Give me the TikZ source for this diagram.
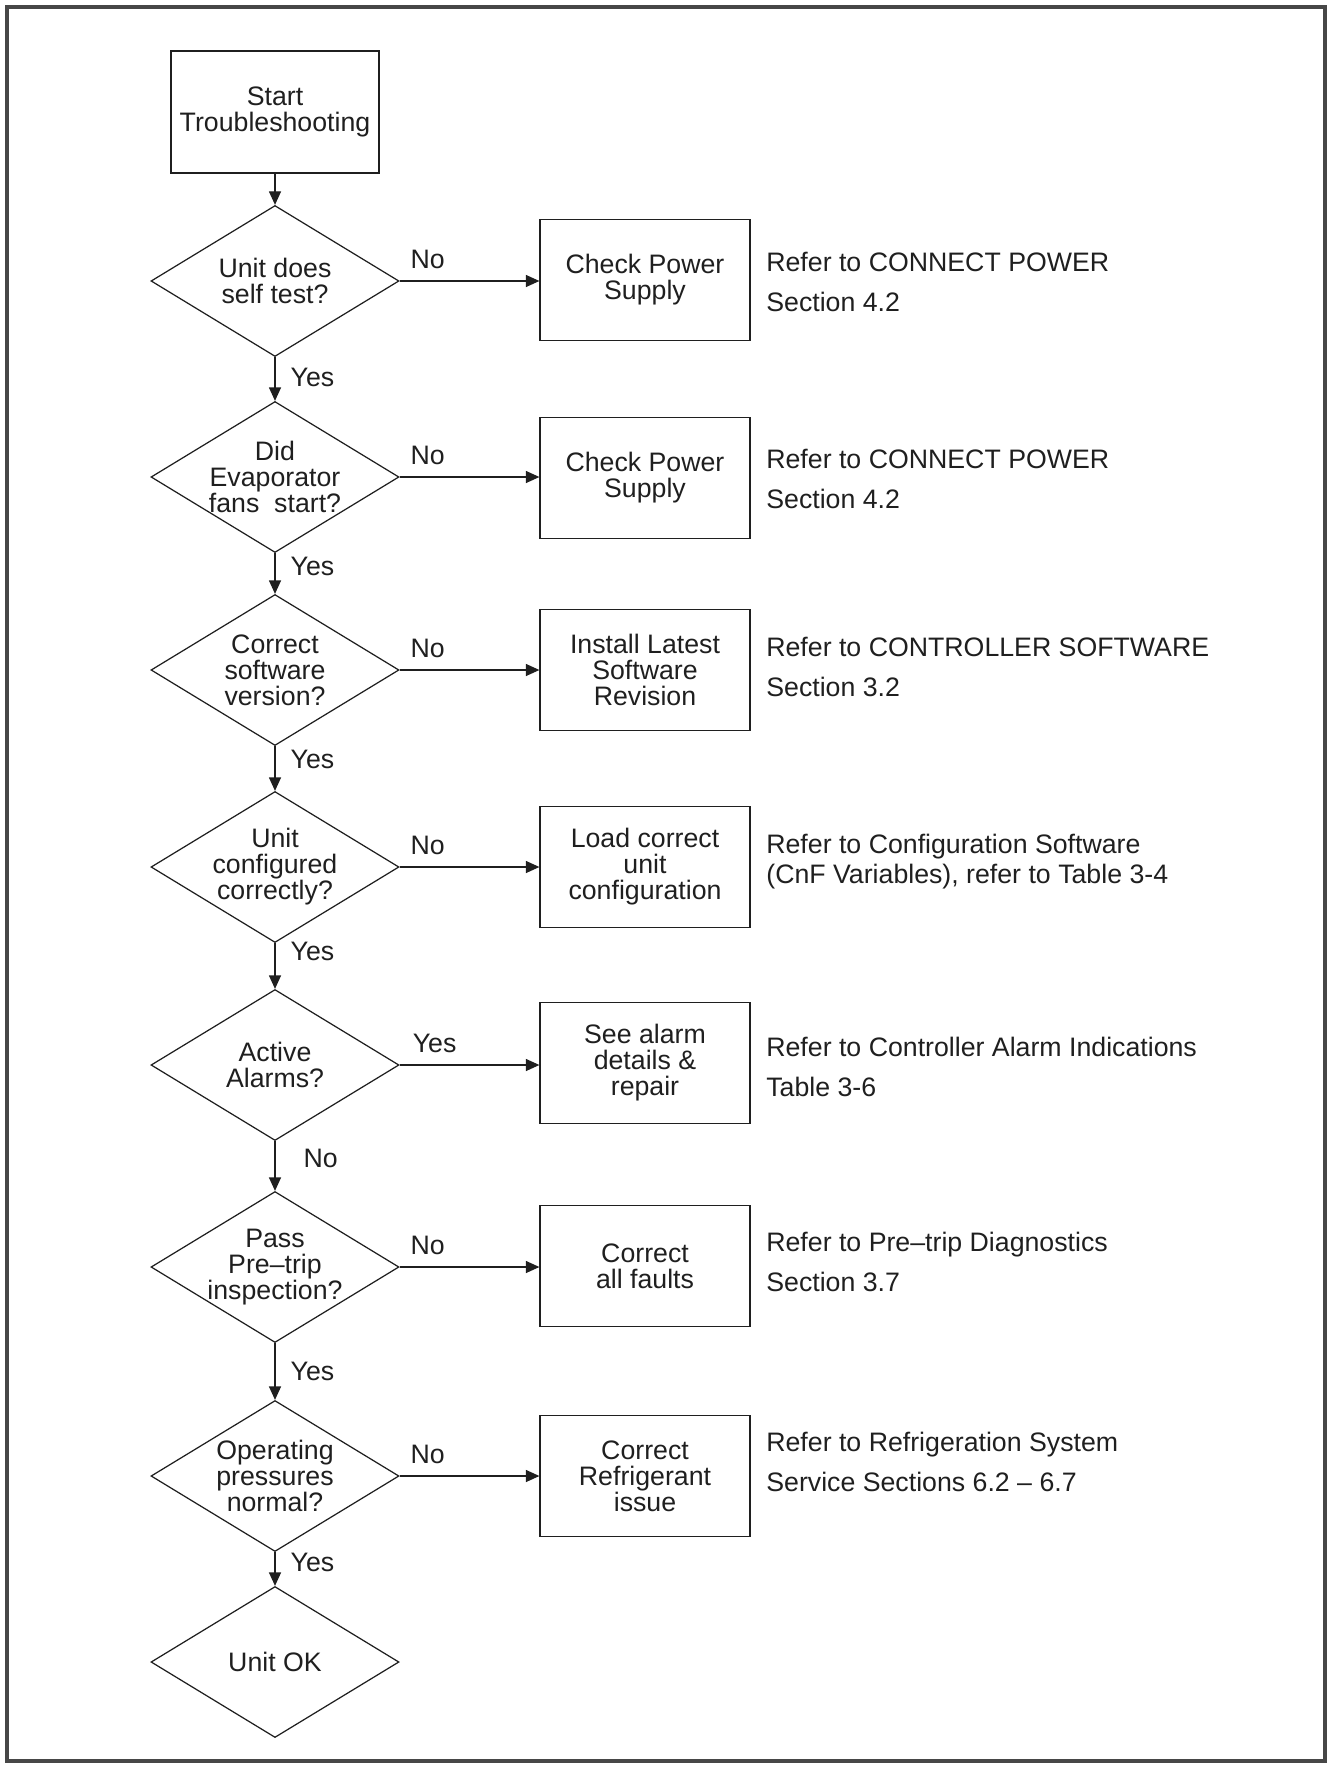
\documentclass[tikz,border=0pt]{standalone}
\usepackage{fontspec}
\setmainfont{Liberation Sans}
\usetikzlibrary{shapes.geometric,arrows.meta}
\definecolor{framegray}{gray}{0.28}
\definecolor{ink}{gray}{0.12}
\begin{document}
\begin{tikzpicture}[every node/.style={font=\fontsize{15.2pt}{14.8pt}\selectfont, text=ink},
    decision/.style={draw=ink, line width=0.7pt, diamond, minimum width=4.96cm, minimum height=3.02cm, inner sep=0pt},
    dtext/.style={align=center, inner sep=0pt},
    action/.style={draw=ink, line width=0.7pt, minimum width=4.2cm, minimum height=2.42cm, align=center, inner sep=0pt},
    refnote/.style={anchor=west, align=left, inner sep=0pt, font=\fontsize{15.2pt}{22.8pt}\selectfont},
    arr/.style={draw=ink, line width=0.7pt, -{Triangle[length=0.27cm,width=0.24cm]}},
    lbl/.style={inner sep=0pt}]
    \useasboundingbox (0,0) rectangle (26.58,-35.36);
    \draw[framegray, line width=2pt] (0.14,-0.14) rectangle (26.5,-35.22);
    % main column
    \node[action, minimum width=4.16cm, minimum height=2.44cm] (start) at (5.5,-2.24) {Start\\Troubleshooting};
    \node[decision, label={[dtext]center:Unit does\\self test?}] (d1) at (5.5,-5.62) {};
    \node[decision, label={[dtext]center:Did\\Evaporator\\fans~ start?}] (d2) at (5.5,-9.54) {};
    \node[decision, label={[dtext]center:Correct\\software\\version?}] (d3) at (5.5,-13.4) {};
    \node[decision, label={[dtext]center:Unit\\configured\\correctly?}] (d4) at (5.5,-17.34) {};
    \node[decision, label={[dtext]center:Active\\Alarms?}] (d5) at (5.5,-21.3) {};
    \node[decision, label={[dtext]center:Pass\\Pre–trip\\inspection?}] (d6) at (5.5,-25.34) {};
    \node[decision, label={[dtext]center:Operating\\pressures\\normal?}] (d7) at (5.5,-29.52) {};
    \node[decision, label={[dtext]center:Unit OK}] (d8) at (5.5,-33.24) {};
    % actions
    \node[action] (b1) at (12.9,-5.6) {Check Power\\Supply};
    \node[action] (b2) at (12.9,-9.56) {Check Power\\Supply};
    \node[action] (b3) at (12.9,-13.4) {Install Latest\\Software\\Revision};
    \node[action] (b4) at (12.9,-17.34) {Load correct\\unit\\configuration};
    \node[action] (b5) at (12.9,-21.26) {See alarm\\details \&\\repair};
    \node[action] (b6) at (12.9,-25.32) {Correct\\all faults};
    \node[action] (b7) at (12.9,-29.52) {Correct\\Refrigerant\\issue};
    % references
    \node[refnote] (r1) at (15.32,-5.63) {Refer to CONNECT POWER\\Section 4.2};
    \node[refnote] (r2) at (15.32,-9.58) {Refer to CONNECT POWER\\Section 4.2};
    \node[refnote] (r3) at (15.32,-13.34) {Refer to CONTROLLER SOFTWARE\\Section 3.2};
    \node[refnote, font=\fontsize{15.2pt}{17pt}\selectfont] (r4) at (15.32,-17.24) {Refer to Configuration Software\\(CnF Variables), refer to Table 3-4};
    \node[refnote] (r5) at (15.32,-21.34) {Refer to Controller Alarm Indications\\Table 3-6};
    \node[refnote] (r6) at (15.32,-25.24) {Refer to Pre–trip Diagnostics\\Section 3.7};
    \node[refnote] (r7) at (15.32,-29.24) {Refer to Refrigeration System\\Service Sections 6.2 – 6.7};
    % downward flow
    \draw[arr] (start) -- (d1);
    \draw[arr] (d1.south) -- node[lbl, right=0.3cm, pos=0.47] {Yes} (d2.north);
    \draw[arr] (d2.south) -- node[lbl, right=0.3cm, pos=0.33] {Yes} (d3.north);
    \draw[arr] (d3.south) -- node[lbl, right=0.3cm, pos=0.3] {Yes} (d4.north);
    \draw[arr] (d4.south) -- node[lbl, right=0.3cm, pos=0.19] {Yes} (d5.north);
    \draw[arr] (d5.south) -- node[lbl, right=0.56cm, pos=0.35] {No} (d6.north);
    \draw[arr] (d6.south) -- node[lbl, right=0.3cm, pos=0.49] {Yes} (d7.north);
    \draw[arr] (d7.south) -- node[lbl, right=0.3cm, pos=0.31] {Yes} (d8.north);
    % side branches
    \draw[arr] (d1.east) -- node[lbl, above=0.24cm, pos=0.2] {No} (d1.east -| b1.west);
    \draw[arr] (d2.east) -- node[lbl, above=0.24cm, pos=0.2] {No} (d2.east -| b2.west);
    \draw[arr] (d3.east) -- node[lbl, above=0.24cm, pos=0.2] {No} (d3.east -| b3.west);
    \draw[arr] (d4.east) -- node[lbl, above=0.24cm, pos=0.2] {No} (d4.east -| b4.west);
    \draw[arr] (d5.east) -- node[lbl, above=0.24cm, pos=0.25] {Yes} (d5.east -| b5.west);
    \draw[arr] (d6.east) -- node[lbl, above=0.24cm, pos=0.2] {No} (d6.east -| b6.west);
    \draw[arr] (d7.east) -- node[lbl, above=0.24cm, pos=0.2] {No} (d7.east -| b7.west);
\end{tikzpicture}
\end{document}
